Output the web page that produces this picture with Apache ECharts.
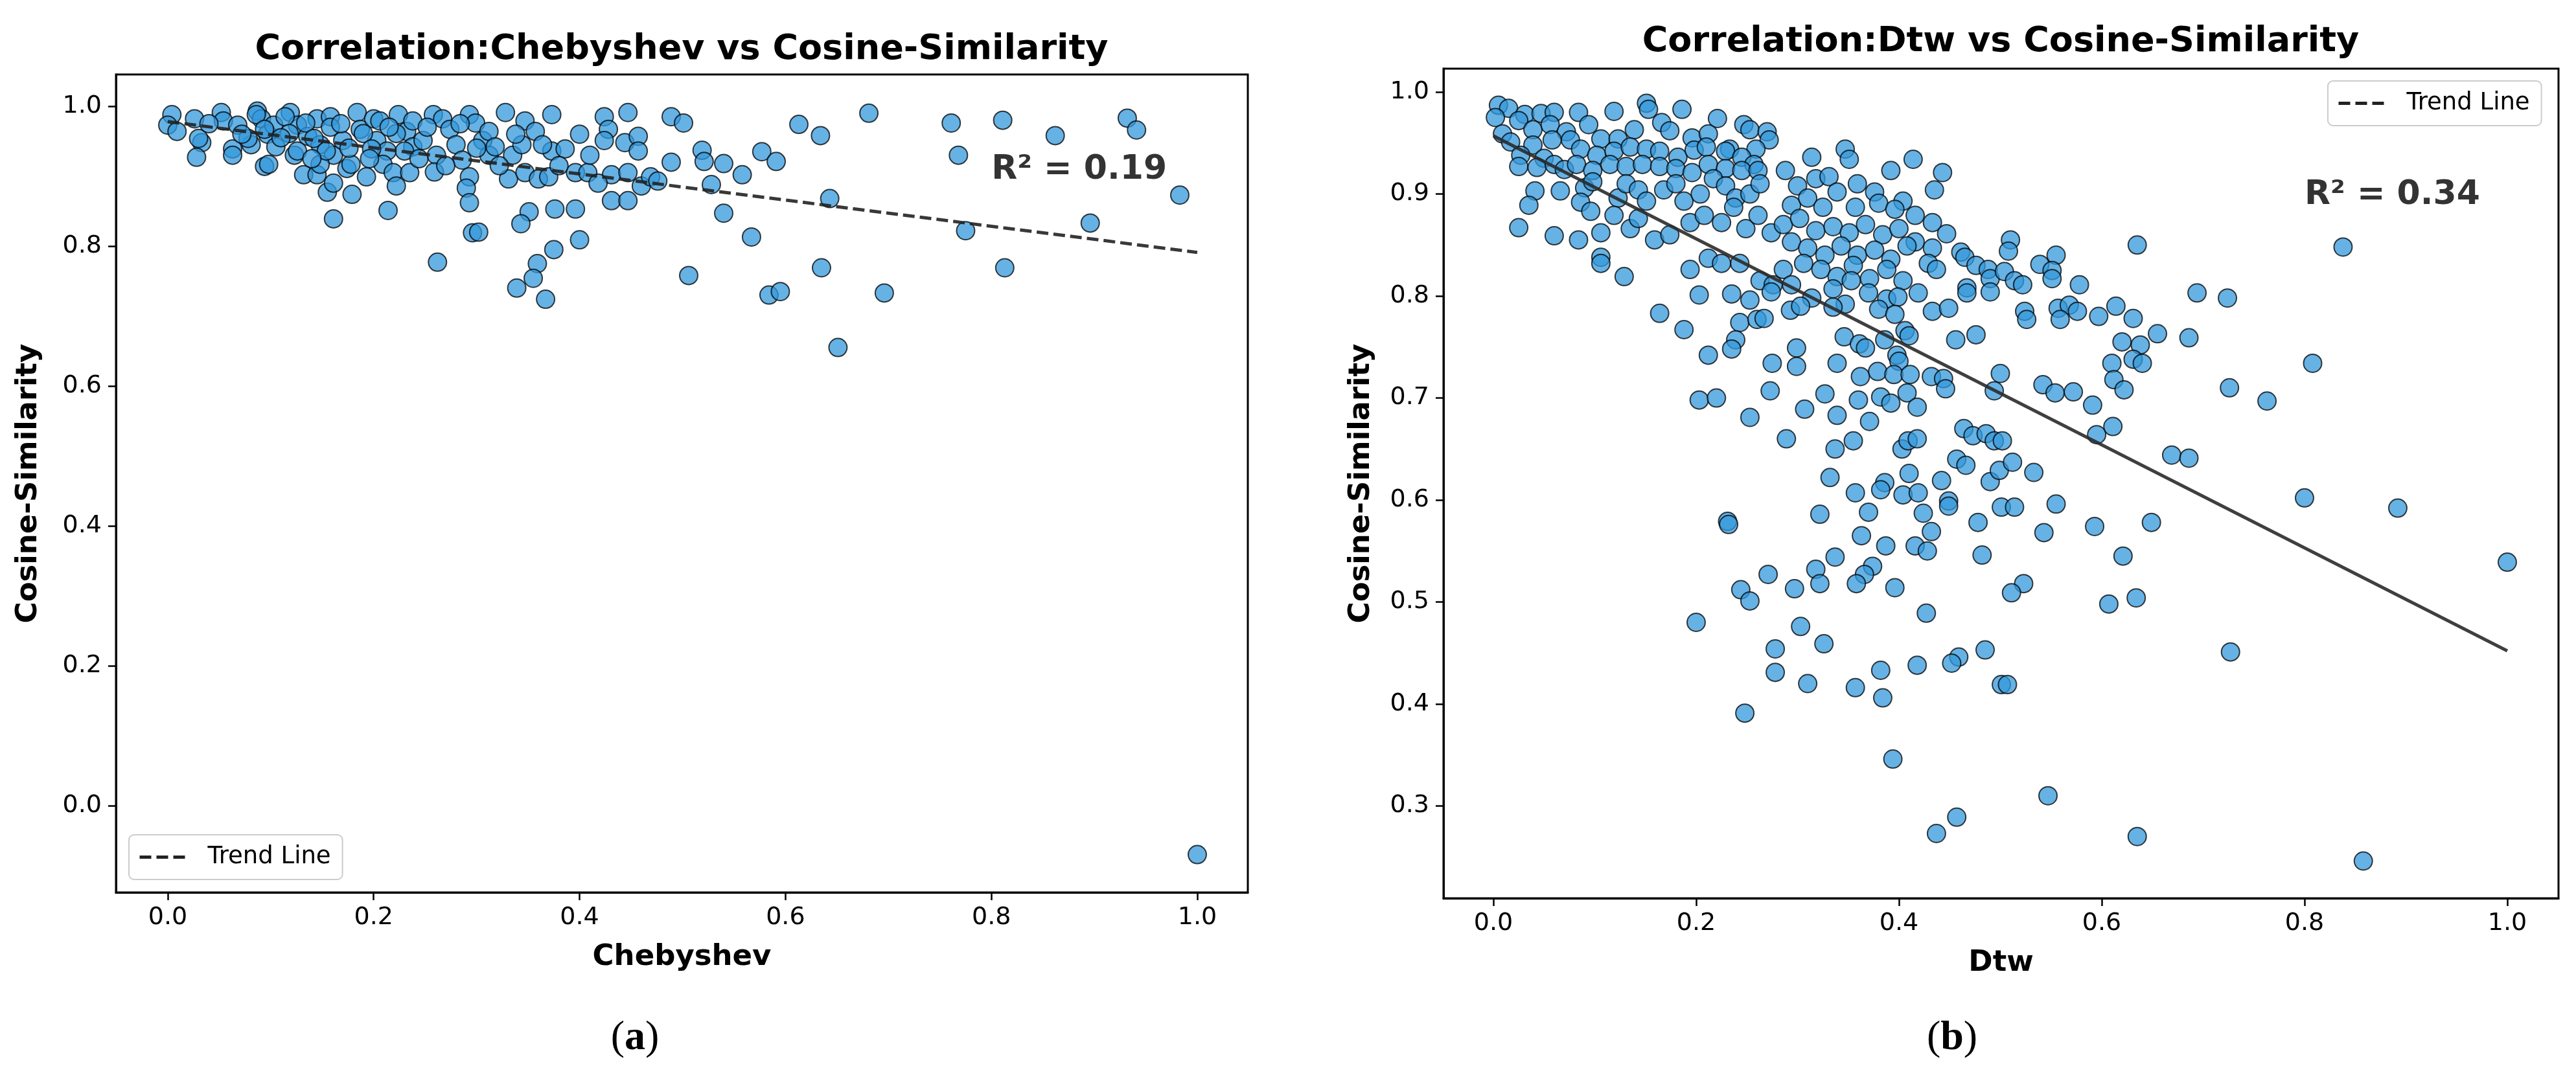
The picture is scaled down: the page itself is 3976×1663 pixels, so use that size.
<!DOCTYPE html>
<html>
<head>
<meta charset="utf-8">
<script src="https://cdn.jsdelivr.net/npm/echarts@6/dist/echarts.min.js"></script>
<style>
html,body{margin:0;padding:0;background:#fff;}
#chart{width:3976px;height:1663px;}
</style>
</head>
<body>
<div id="chart"></div>
<script>
// ---- data ----
const chebyshevPoints = [
[0.004,0.988],[0.000,0.973],[0.009,0.964],[0.026,0.982],[0.033,0.948],[0.028,0.927],[0.052,0.991],[0.054,0.979],
[0.068,0.973],[0.063,0.939],[0.063,0.930],[0.081,0.945],[0.087,0.993],[0.091,0.982],[0.097,0.960],[0.103,0.973],
[0.094,0.914],[0.105,0.942],[0.119,0.991],[0.123,0.930],[0.126,0.973],[0.136,0.957],[0.145,0.982],[0.158,0.985],
[0.148,0.945],[0.161,0.930],[0.132,0.902],[0.145,0.902],[0.174,0.911],[0.155,0.877],[0.161,0.890],[0.179,0.874],
[0.184,0.991],[0.187,0.967],[0.200,0.982],[0.203,0.951],[0.213,0.936],[0.209,0.917],[0.219,0.905],[0.224,0.988],
[0.232,0.964],[0.238,0.942],[0.235,0.905],[0.222,0.886],[0.193,0.899],[0.248,0.951],[0.258,0.988],[0.267,0.982],
[0.261,0.930],[0.259,0.906],[0.274,0.967],[0.280,0.945],[0.286,0.923],[0.293,0.988],[0.299,0.976],[0.306,0.951],
[0.312,0.930],[0.293,0.899],[0.290,0.883],[0.293,0.862],[0.312,0.964],[0.318,0.942],[0.328,0.991],[0.347,0.979],
[0.357,0.964],[0.335,0.930],[0.344,0.945],[0.331,0.896],[0.347,0.905],[0.360,0.896],[0.373,0.988],[0.373,0.936],
[0.386,0.939],[0.370,0.899],[0.396,0.905],[0.408,0.905],[0.424,0.985],[0.447,0.991],[0.428,0.967],[0.424,0.951],
[0.444,0.948],[0.457,0.957],[0.457,0.936],[0.431,0.902],[0.447,0.905],[0.460,0.886],[0.469,0.899],[0.476,0.893],
[0.489,0.985],[0.489,0.920],[0.431,0.865],[0.447,0.865],[0.161,0.839],[0.214,0.851],[0.262,0.777],[0.296,0.819],
[0.302,0.820],[0.351,0.849],[0.343,0.832],[0.376,0.853],[0.396,0.853],[0.400,0.809],[0.375,0.795],[0.359,0.775],
[0.355,0.754],[0.339,0.740],[0.367,0.724],
[0.030,0.954],[0.078,0.954],[0.086,0.988],[0.094,0.967],[0.098,0.917],[0.114,0.985],[0.118,0.961],[0.126,0.936],
[0.134,0.976],[0.142,0.954],[0.148,0.917],[0.154,0.936],[0.158,0.970],[0.170,0.951],[0.178,0.917],[0.190,0.961],
[0.198,0.939],[0.206,0.979],[0.222,0.961],[0.230,0.936],[0.238,0.979],
[0.040,0.975],[0.072,0.960],[0.110,0.955],[0.140,0.925],[0.168,0.975],[0.176,0.940],[0.196,0.925],[0.215,0.970],
[0.244,0.925],[0.252,0.970],[0.270,0.915],[0.284,0.975],[0.300,0.940],[0.322,0.915],[0.338,0.960],[0.364,0.945],
[0.380,0.915],[0.400,0.960],[0.410,0.930],[0.418,0.890],
[0.501,0.976],[0.519,0.937],[0.521,0.921],[0.540,0.918],[0.558,0.902],[0.577,0.935],[0.591,0.921],[0.528,0.888],
[0.613,0.974],[0.634,0.958],[0.681,0.990],[0.643,0.868],[0.540,0.847],[0.567,0.813],[0.506,0.758],[0.584,0.730],
[0.595,0.735],[0.635,0.769],[0.696,0.733],[0.651,0.655],[0.761,0.976],[0.768,0.930],[0.811,0.980],[0.862,0.958],
[0.932,0.983],[0.941,0.966],[0.983,0.873],[0.775,0.822],[0.896,0.833],[0.813,0.769],[1.000,-0.070]
];

const dtwPoints = [
// upper dense band
[0.005,0.987],[0.015,0.984],[0.002,0.975],[0.031,0.978],[0.047,0.979],[0.060,0.980],[0.084,0.980],[0.119,0.981],
[0.151,0.989],[0.153,0.983],[0.186,0.983],[0.221,0.974],[0.247,0.968],[0.253,0.963],[0.270,0.961],[0.272,0.953],
[0.009,0.959],[0.025,0.972],[0.039,0.963],[0.056,0.968],[0.072,0.961],[0.094,0.968],[0.106,0.954],[0.123,0.954],
[0.139,0.963],[0.166,0.970],[0.174,0.962],[0.196,0.955],[0.212,0.959],[0.233,0.944],[0.259,0.944],
[0.017,0.951],[0.039,0.948],[0.027,0.938],[0.025,0.927],[0.050,0.935],[0.058,0.953],[0.076,0.953],[0.086,0.944],
[0.102,0.938],[0.119,0.942],[0.135,0.946],[0.151,0.944],[0.164,0.942],[0.182,0.936],[0.198,0.943],[0.210,0.946],
[0.229,0.942],[0.245,0.936],[0.257,0.929],
[0.043,0.926],[0.060,0.929],[0.070,0.924],[0.082,0.929],[0.098,0.923],[0.115,0.929],[0.131,0.927],[0.147,0.929],
[0.164,0.927],[0.180,0.925],[0.196,0.921],[0.212,0.929],[0.229,0.925],[0.245,0.923],[0.261,0.923],
[0.041,0.903],[0.035,0.889],[0.066,0.903],[0.090,0.906],[0.098,0.912],[0.086,0.892],[0.123,0.896],[0.131,0.910],
[0.143,0.904],[0.151,0.893],[0.168,0.904],[0.180,0.910],[0.188,0.893],[0.204,0.900],[0.217,0.915],[0.229,0.908],
[0.239,0.896],[0.253,0.900],[0.263,0.910],
[0.025,0.867],[0.060,0.859],[0.084,0.855],[0.106,0.862],[0.096,0.883],[0.119,0.879],[0.135,0.866],[0.143,0.876],
[0.159,0.855],[0.174,0.860],[0.194,0.872],[0.208,0.879],[0.225,0.872],[0.237,0.887],[0.249,0.866],[0.261,0.879],
[0.274,0.862],
[0.106,0.838],[0.106,0.832],[0.129,0.819],[0.194,0.826],[0.212,0.837],[0.225,0.832],[0.243,0.832],[0.263,0.815],
[0.276,0.811],[0.286,0.826],
[0.288,0.923],[0.300,0.908],[0.314,0.936],[0.318,0.915],[0.331,0.917],[0.347,0.944],[0.351,0.934],[0.359,0.910],
[0.376,0.902],[0.392,0.923],[0.404,0.893],[0.414,0.934],[0.435,0.904],[0.294,0.889],[0.310,0.896],[0.325,0.887],
[0.339,0.902],[0.357,0.887],[0.380,0.891],[0.396,0.885],[0.416,0.879],[0.433,0.872],[0.286,0.870],[0.302,0.876],
[0.318,0.864],[0.335,0.868],[0.351,0.862],[0.367,0.870],[0.384,0.860],[0.400,0.866],[0.416,0.853],[0.433,0.847],
[0.294,0.853],[0.310,0.847],[0.327,0.840],[0.343,0.849],[0.359,0.840],[0.376,0.845],[0.392,0.836],[0.408,0.849],
[0.429,0.832],[0.306,0.832],[0.323,0.826],[0.339,0.819],[0.355,0.830],[0.371,0.817],[0.388,0.826],[0.404,0.815],
[0.437,0.826],[0.294,0.811],[0.314,0.798],[0.335,0.807],[0.353,0.815],[0.347,0.792],
[0.443,0.921],[0.447,0.861],[0.461,0.843],[0.465,0.838],[0.510,0.855],[0.508,0.844],[0.476,0.830],[0.488,0.826],
[0.490,0.817],[0.504,0.824],[0.514,0.815],[0.522,0.811],[0.539,0.831],[0.555,0.840],[0.551,0.825],[0.551,0.817],
[0.578,0.811],[0.467,0.808],[0.635,0.850],[0.838,0.848],
// middle and lower region
[0.164,0.783],[0.188,0.767],[0.203,0.801],[0.235,0.802],[0.253,0.796],[0.274,0.804],[0.243,0.774],[0.260,0.777],
[0.267,0.778],[0.239,0.757],[0.235,0.748],[0.212,0.742],[0.293,0.786],[0.303,0.790],[0.275,0.734],[0.299,0.749],
[0.299,0.731],[0.339,0.734],[0.346,0.760],[0.335,0.789],[0.203,0.698],[0.220,0.700],[0.273,0.707],[0.253,0.681],
[0.307,0.689],[0.327,0.704],[0.339,0.683],[0.289,0.660],[0.337,0.650],[0.332,0.622],[0.231,0.579],[0.232,0.576],
[0.322,0.586],[0.337,0.544],[0.318,0.532],[0.322,0.518],[0.271,0.527],[0.244,0.512],[0.253,0.501],[0.297,0.513],
[0.200,0.480],[0.303,0.476],[0.326,0.459],[0.278,0.454],[0.278,0.431],[0.310,0.420],[0.248,0.391],
[0.370,0.803],[0.388,0.797],[0.399,0.799],[0.380,0.787],[0.396,0.782],[0.419,0.803],[0.433,0.785],[0.449,0.788],
[0.467,0.803],[0.490,0.804],[0.524,0.785],[0.526,0.777],[0.557,0.788],[0.568,0.791],[0.576,0.785],[0.559,0.777],
[0.597,0.780],[0.614,0.790],[0.631,0.778],[0.655,0.763],[0.686,0.759],[0.694,0.803],[0.724,0.798],[0.726,0.710],
[0.361,0.753],[0.367,0.749],[0.386,0.757],[0.406,0.766],[0.410,0.761],[0.456,0.757],[0.476,0.762],[0.620,0.755],
[0.638,0.752],[0.610,0.734],[0.631,0.738],[0.640,0.734],[0.398,0.742],[0.400,0.736],[0.362,0.721],[0.379,0.726],
[0.395,0.723],[0.411,0.723],[0.432,0.721],[0.444,0.719],[0.446,0.709],[0.500,0.724],[0.494,0.707],[0.542,0.713],
[0.554,0.705],[0.572,0.706],[0.591,0.693],[0.612,0.718],[0.622,0.708],[0.360,0.698],[0.382,0.701],[0.392,0.695],
[0.408,0.705],[0.418,0.691],[0.371,0.677],[0.464,0.670],[0.473,0.663],[0.486,0.665],[0.494,0.658],[0.502,0.658],
[0.595,0.664],[0.611,0.672],[0.669,0.644],[0.686,0.641],[0.355,0.658],[0.403,0.650],[0.409,0.658],[0.418,0.660],
[0.457,0.640],[0.466,0.634],[0.490,0.618],[0.499,0.629],[0.512,0.637],[0.533,0.627],[0.442,0.619],[0.410,0.626],
[0.386,0.617],[0.382,0.610],[0.357,0.607],[0.404,0.605],[0.419,0.607],[0.449,0.599],[0.449,0.594],[0.370,0.588],
[0.424,0.587],[0.501,0.593],[0.514,0.593],[0.555,0.596],[0.478,0.578],[0.543,0.568],[0.593,0.574],[0.649,0.578],
[0.363,0.565],[0.387,0.555],[0.432,0.569],[0.416,0.555],[0.428,0.550],[0.482,0.546],[0.621,0.545],[0.374,0.535],
[0.366,0.527],[0.358,0.518],[0.396,0.514],[0.523,0.518],[0.511,0.509],[0.607,0.498],[0.634,0.504],[0.427,0.489],
[0.485,0.453],[0.459,0.446],[0.452,0.440],[0.418,0.438],[0.382,0.433],[0.357,0.416],[0.384,0.406],[0.501,0.419],
[0.507,0.419],[0.727,0.451],[0.394,0.346],[0.547,0.310],[0.457,0.289],[0.437,0.273],[0.635,0.270],
[0.808,0.734],[0.763,0.697],[0.800,0.602],[0.892,0.592],[1.000,0.539],[0.858,0.246]
];

const trendX = [0, 1];
const chebyshevTrend = [0.978, 0.791];
const dtwTrend = [0.957, 0.452];
const xTicks = [0, 0.2, 0.4, 0.6, 0.8, 1.0];
const chebyshevYTicks = [0, 0.2, 0.4, 0.6, 0.8, 1.0];
const dtwYTicks = [0.3, 0.4, 0.5, 0.6, 0.7, 0.8, 0.9, 1.0];
const r2Labels = ['R\u00b2 = 0.19', 'R\u00b2 = 0.34'];
const r2Positions = [[0.8, 0.909], [0.8, 0.899]];

// ---- chart ----
const FONT = "'DejaVu Sans', sans-serif";
function xAxisCfg(gi, min, max, name) {
  return {
    type: 'value', gridIndex: gi, min: min, max: max,
    name: name, nameLocation: 'middle', nameGap: 78,
    nameTextStyle: {fontFamily: FONT, fontWeight: 'bold', fontSize: 45, color: '#000'},
    axisLine: {show: true, onZero: false, lineStyle: {color: '#000', width: 3}},
    axisTick: {show: true, length: 12, lineStyle: {color: '#000', width: 2.5}, customValues: xTicks},
    axisLabel: {customValues: xTicks, formatter: v => v.toFixed(1), fontFamily: FONT, fontSize: 38, color: '#000', margin: 20},
    splitLine: {show: false}
  };
}
function yAxisCfg(gi, min, max, ticks, gap) {
  return {
    type: 'value', gridIndex: gi, min: min, max: max,
    name: 'Cosine-Similarity', nameLocation: 'middle', nameGap: gap, nameRotate: 90,
    nameTextStyle: {fontFamily: FONT, fontWeight: 'bold', fontSize: 45, color: '#000'},
    axisLine: {show: true, onZero: false, lineStyle: {color: '#000', width: 3}},
    axisTick: {show: true, length: 12, lineStyle: {color: '#000', width: 2.5}, customValues: ticks},
    axisLabel: {customValues: ticks, formatter: v => v.toFixed(1), fontFamily: FONT, fontSize: 38, color: '#000', margin: 22},
    splitLine: {show: false}
  };
}
const scatterStyle = {color: '#3498db', opacity: 0.75, borderColor: '#000', borderWidth: 2};
function legendCfg(left, top) {
  return {
    data: [{name: 'Trend Line', itemStyle: {opacity: 0, color: '#222', borderWidth: 0},
            lineStyle: {type: [18, 8], color: '#222', width: 5, opacity: 1}}],
    left: left, top: top, itemWidth: 72, itemHeight: 20,
    padding: [16, 18, 16, 14], borderColor: '#cccccc', borderWidth: 2, borderRadius: 8,
    backgroundColor: 'rgba(255,255,255,0.85)', selectedMode: false,
    textStyle: {fontFamily: FONT, fontSize: 37, color: '#000', padding: [0, 0, 0, 28]}
  };
}

const chart = echarts.init(document.getElementById('chart'), null, {renderer: 'canvas'});
chart.setOption({
  animation: false,
  backgroundColor: '#fff',
  grid: [
    {left: 179, top: 115, width: 1747, height: 1263, show: true, borderColor: '#000', borderWidth: 3, backgroundColor: 'transparent'},
    {left: 2228, top: 106, width: 1721, height: 1281, show: true, borderColor: '#000', borderWidth: 3, backgroundColor: 'transparent'}
  ],
  xAxis: [xAxisCfg(0, -0.0503, 1.0491, 'Chebyshev'), xAxisCfg(1, -0.0492, 1.0505, 'Dtw')],
  yAxis: [yAxisCfg(0, -0.1241, 1.0454, chebyshevYTicks, 112), yAxisCfg(1, 0.2095, 1.0229, dtwYTicks, 104)],
  legend: [legendCfg(199, 1289), legendCfg(3593, 125)],
  series: [
    {type: 'scatter', name: 'Chebyshev', xAxisIndex: 0, yAxisIndex: 0, data: chebyshevPoints,
     symbolSize: 28, itemStyle: scatterStyle, silent: true, z: 2},
    {type: 'scatter', name: 'Dtw', xAxisIndex: 1, yAxisIndex: 1, data: dtwPoints,
     symbolSize: 28, itemStyle: scatterStyle, silent: true, z: 2},
    {type: 'line', name: 'Trend Line', xAxisIndex: 0, yAxisIndex: 0,
     data: trendX.map((x, i) => [x, chebyshevTrend[i]]), symbol: 'none', showSymbol: false,
     itemStyle: {color: '#222'},
     lineStyle: {color: '#222', width: 5, type: [18, 8], opacity: 0.9}, silent: true, z: 3},
    {type: 'line', name: 'Trend Line', xAxisIndex: 1, yAxisIndex: 1,
     data: trendX.map((x, i) => [x, dtwTrend[i]]), symbol: 'none', showSymbol: false,
     itemStyle: {color: '#2a2a2a'},
     lineStyle: {color: '#2a2a2a', width: 5, type: 'solid', opacity: 0.9}, silent: true, z: 3},
    {type: 'scatter', name: 'r2a', xAxisIndex: 0, yAxisIndex: 0, data: [r2Positions[0]], symbolSize: 0,
     silent: true, z: 4,
     label: {show: true, position: 'right', distance: 0, formatter: r2Labels[0], fontFamily: FONT, fontWeight: 'bold', fontSize: 52, color: '#000'}},
    {type: 'scatter', name: 'r2b', xAxisIndex: 1, yAxisIndex: 1, data: [r2Positions[1]], symbolSize: 0,
     silent: true, z: 4,
     label: {show: true, position: 'right', distance: 0, formatter: r2Labels[1], fontFamily: FONT, fontWeight: 'bold', fontSize: 52, color: '#000'}}
  ],
  graphic: [
    {type: 'text', x: 1052, y: 77, style: {text: 'Correlation:Chebyshev vs Cosine-Similarity', font: "bold 54px 'DejaVu Sans'", fill: '#000', align: 'center', verticalAlign: 'middle', textAlign: 'center', textVerticalAlign: 'middle'}},
    {type: 'text', x: 3088, y: 65, style: {text: 'Correlation:Dtw vs Cosine-Similarity', font: "bold 54px 'DejaVu Sans'", fill: '#000', align: 'center', verticalAlign: 'middle', textAlign: 'center', textVerticalAlign: 'middle'}},
    {type: 'text', x: 980, y: 1603, style: {text: '({b|a})', font: "64px 'Liberation Serif'", fill: '#000', align: 'center', verticalAlign: 'middle', textAlign: 'center', textVerticalAlign: 'middle',
      rich: {b: {font: "bold 64px 'Liberation Serif'", fill: '#000'}}}},
    {type: 'text', x: 3013, y: 1603, style: {text: '({b|b})', font: "64px 'Liberation Serif'", fill: '#000', align: 'center', verticalAlign: 'middle', textAlign: 'center', textVerticalAlign: 'middle',
      rich: {b: {font: "bold 64px 'Liberation Serif'", fill: '#000'}}}}
  ]
});
</script>
</body>
</html>
